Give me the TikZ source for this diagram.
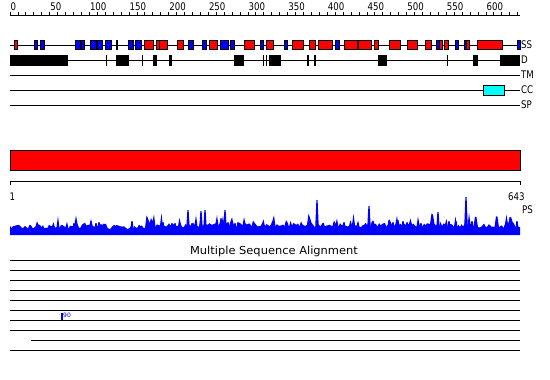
\documentclass[tikz,border=0pt]{standalone}
\usepackage{fontspec}
\setmainfont{DejaVu Sans}
\usepackage{graphicx}
\newcommand{\mylbl}[1]{\scalebox{0.82}[1]{#1}}
\definecolor{cyfill}{RGB}{0,255,255}
\definecolor{redfill}{RGB}{255,0,0}
\definecolor{bluefill}{RGB}{0,0,255}
\begin{document}
\begin{tikzpicture}[x=1pt,y=-1pt,
  track/.style={line width=0.9pt},
  boxline/.style={draw=black,line width=0.8pt},
  lbl/.style={inner sep=0,anchor=base west,font=\fontsize{10.5}{12}\selectfont},
  ticklbl/.style={inner sep=0,anchor=base west,font=\fontsize{10.5}{12}\selectfont}]
\pgfmathsetseed{11}
\fill[white] (0,0) rectangle (550,380);
\useasboundingbox (0,0) rectangle (550,380);

% ---------- top ruler ----------
\coordinate (r0) at (10,15.5);
\coordinate (r1) at (520,15.5);
\draw[line width=0.9pt] (r0) -- (r1);
\foreach \n in {0,10,...,640}{
  \draw[line width=0.8pt] ({10+\n*0.7932},15.5) -- ({10+\n*0.7932},12.3);
}
\foreach \n in {0,50,...,600}{
  \node[ticklbl] (t\n) at ({10.5+\n*0.7932},10) {\mylbl{\n}};
}

% ---------- tracks ----------
\coordinate (ssA) at (10,45);   \coordinate (ssB) at (520,45);
\coordinate (dA) at (10,60);    \coordinate (dB) at (520,60);
\coordinate (tmA) at (10,75);   \coordinate (tmB) at (520,75);
\coordinate (ccA) at (10,90);   \coordinate (ccB) at (520,90);
\coordinate (spA) at (10,105);  \coordinate (spB) at (520,105);
\foreach \p in {ss,d,tm,cc,sp}{ \draw[track] (\p A) -- (\p B); }

% SS boxes
\foreach \a/\b/\c in {14.5/17.5/redfill,34/37/bluefill,40/44/bluefill,75/80/bluefill,81/84/bluefill,
  90/96/bluefill,97/102/bluefill,105/111/bluefill,116/117/black,128/133/bluefill,135.5/141/bluefill,
  144/153/redfill,156/159/redfill,159.5/167/redfill,177/183/redfill,188/193/bluefill,202/206/bluefill,
  209/217/redfill,220/228/bluefill,230/234/bluefill,244/254/redfill,260/263/bluefill,266/273/redfill,
  284/287/bluefill,292/303/redfill,309/315/redfill,318/332/redfill,335/339/bluefill,344/357/redfill,
  358/371/redfill,374/378/redfill,389/400/redfill,407/417/redfill,425/431/redfill,436/439.5/bluefill,
  439.5/442/redfill,444/448/redfill,455/458/bluefill,464/466/bluefill,466/469/redfill,477/502/redfill,
  517/520/bluefill}{
  \draw[boxline,fill=\c] (\a,40.5) rectangle (\b,49.5);
}
% D boxes
\foreach \a/\b in {10/68,105.5/107,116/129,142/143.2,153/157,169/172,234/244,
  263/264,266/267,269/281,307/309,314/316,378/387,447/447.6,473/478,500/520}{
  \fill[black] (\a,55) rectangle (\b,65.5);
}
% CC box
\draw[boxline,fill=cyfill] (483,85) rectangle (504,95);

\node[lbl] (lSS) at (521,48.6) {\mylbl{SS}};
\node[lbl] (lD) at (521,63.6) {\mylbl{D}};
\node[lbl] (lTM) at (521,78.6) {\mylbl{TM}};
\node[lbl] (lCC) at (521,93.6) {\mylbl{CC}};
\node[lbl] (lSP) at (521,108.6) {\mylbl{SP}};

% ---------- big red bar ----------
\draw[boxline,fill=redfill] (10,150) rectangle (520,170);

% ---------- lower ruler ----------
\coordinate (b0) at (10,181);
\coordinate (b1) at (520,181);
\draw[line width=0.9pt] (b0) -- (b1);
\draw[line width=0.8pt] (b0) -- ++(0,4);
\draw[line width=0.8pt] (b1) -- ++(0,4);
\node[lbl] (one) at (9.5,200) {\mylbl{1}};
\node[lbl] (end) at (508,200) {\mylbl{643}};
\node[lbl] (lPS) at (522,213) {\mylbl{PS}};

% ---------- profile ----------
\fill[bluefill] (10,235) \foreach \i in {0,...,340}{ -- ({10+1.5*\i},{229-4.5*rnd-11*rnd^5-1.5*(\i>100)*(\i<320)}) } -- (520,235) -- cycle;
\foreach \x/\y in {74/223,91/221,96/223,99/222,101/224,114/225,132/221,163/222,
  172/223,175/223,180/223,188/210,192/223,201/211,205/210,210/224,221/218,225/210,
  228/222,231/222,235/223,238/222,265/226,310/220,317/200,344/222,358/223,369/206,
  373/221,389/220,393/222,398/220,403/221,407/222,421/223,438/212,449/221,456/221,
  466/197,472/221,510/217,517/221}{
  \fill[bluefill] (\x-2,232) -- (\x-0.6,\y) -- (\x+0.6,\y) -- (\x+2,232) -- cycle;
}

% ---------- MSA ----------
\node[inner sep=0,anchor=base,font=\fontsize{11}{13}\selectfont] (msa) at (274,254) {\scalebox{1.04}[1]{Multiple Sequence Alignment}};
\foreach \k in {0,...,9}{
  \pgfmathsetmacro{\xs}{ifthenelse(\k==8,31,10)}
  \coordinate (mA\k) at (\xs,{260+10*\k});
  \coordinate (mB\k) at (520,{260+10*\k});
  \draw[track] (mA\k) -- (mB\k);
}
\fill[bluefill] (61,313) rectangle (63.3,320);
\node[inner sep=0,anchor=base west,text=bluefill,font=\fontsize{6}{7}\selectfont] (n90) at (63,317.5) {90};
\end{tikzpicture}
\end{document}
